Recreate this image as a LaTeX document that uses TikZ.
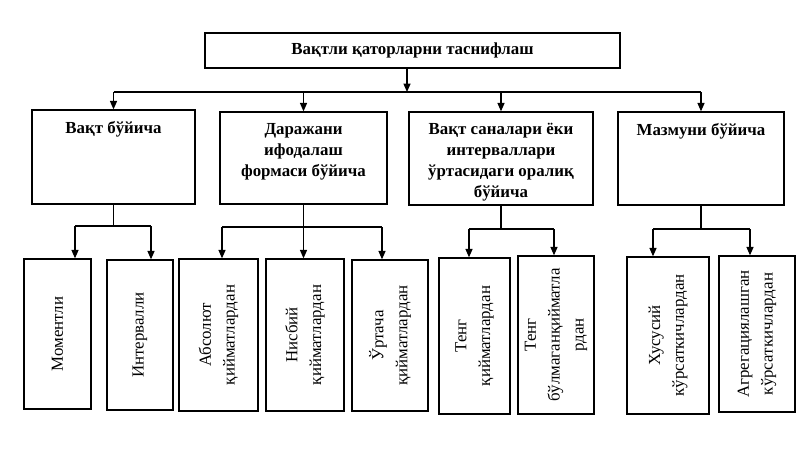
\documentclass[tikz,border=0pt]{standalone}
\usepackage{fontspec}
\setmainfont{Liberation Serif}
\usetikzlibrary{arrows.meta}

\begin{document}
\begin{tikzpicture}[x=0.025cm, y=-0.025cm, line width=0.9pt,
  box/.style={draw, inner sep=0pt},
  head/.style={font=\fontsize{12}{15}\selectfont\bfseries, align=center, anchor=north, inner sep=0pt, yshift=-8pt},
  low/.style={draw, rotate=90, align=center, inner sep=0pt, font=\fontsize{12}{17}\selectfont},
  arr/.style={-{Triangle[length=6pt,width=5pt]}}]
\useasboundingbox (0,0) rectangle (800,449);
% top
\node[box, minimum width=10.375cm, minimum height=0.875cm, font=\fontsize{12}{15}\selectfont\bfseries] (top) at (412.5,50.5) {Вақтли қаторларни таснифлаш};
\coordinate (bus) at (407,92);
% second row
\node[box, minimum width=4.075cm, minimum height=2.35cm, label={[head]north:Вақт бўйича}] (b1) at (113.5,157) {};
\node[box, minimum width=4.175cm, minimum height=2.3cm, label={[head]north:{Даражани\\ифодалаш\\формаси бўйича}}] (b2) at (303.5,158) {};
\node[box, minimum width=4.6cm, minimum height=2.325cm, label={[head]north:{Вақт саналари ёки\\интерваллари\\ўртасидаги оралиқ\\бўйича}}] (b3) at (501,158.5) {};
\node[box, minimum width=4.15cm, minimum height=2.325cm, label={[head]north:Мазмуни бўйича}] (b4) at (701,158.5) {};
\draw[arr] (top.south -| bus) -- (bus);
\draw (b1 |- bus) -- (b4 |- bus);
\foreach \b in {b1,b2,b3,b4}
  \draw[arr] (\b |- bus) -- (\b.north);
% third row
\node[low, minimum width=3.75cm, minimum height=1.675cm] (c1) at (57.5,334) {Моментли};
\node[low, minimum width=3.75cm, minimum height=1.65cm] (c2) at (140,335) {Интервалли};
\node[low, minimum width=3.8cm, minimum height=1.975cm] (c3) at (218.5,335) {Абсолют\\қийматлардан};
\node[low, minimum width=3.8cm, minimum height=1.95cm] (c4) at (305,335) {Нисбий\\қийматлардан};
\node[low, minimum width=3.775cm, minimum height=1.9cm] (c5) at (390,335.5) {Ўртача\\қийматлардан};
\node[low, minimum width=3.9cm, minimum height=1.775cm] (c6) at (474.5,336) {Тенг\\қийматлардан};
\node[low, minimum width=3.95cm, minimum height=1.9cm] (c7) at (556,335) {Тенг\\бўлмаганқийматла\\рдан};
\node[low, minimum width=3.925cm, minimum height=2.05cm] (c8) at (668,335.5) {Хусусий\\кўрсаткичлардан};
\node[low, minimum width=3.9cm, minimum height=1.9cm] (c9) at (757,334) {Агрегациялашган\\кўрсаткичлардан};
% branches
\coordinate (g1l) at (75,226);  \coordinate (g1r) at (151,226);
\coordinate (g2l) at (222,227); \coordinate (g2r) at (382,227);
\coordinate (g3l) at (469,229); \coordinate (g3r) at (554,229);
\coordinate (g4l) at (653,229); \coordinate (g4r) at (750,229);
\draw (b1.south) -- (b1.south |- g1l);
\draw (b2.south) -- (b2.south |- g2l);
\draw (b3.south) -- (b3.south |- g3l);
\draw (b4.south) -- (b4.south |- g4l);
\draw (g1l) -- (g1r);
\draw (g2l) -- (g2r);
\draw (g3l) -- (g3r);
\draw (g4l) -- (g4r);
\draw[arr] (g1l) -- (g1l |- c1.east);
\draw[arr] (g1r) -- (g1r |- c2.east);
\draw[arr] (g2l) -- (g2l |- c3.east);
\draw[arr] (b2.south |- g2l) -- (b2.south |- c4.east);
\draw[arr] (g2r) -- (g2r |- c5.east);
\draw[arr] (g3l) -- (g3l |- c6.east);
\draw[arr] (g3r) -- (g3r |- c7.east);
\draw[arr] (g4l) -- (g4l |- c8.east);
\draw[arr] (g4r) -- (g4r |- c9.east);
\end{tikzpicture}
\end{document}
